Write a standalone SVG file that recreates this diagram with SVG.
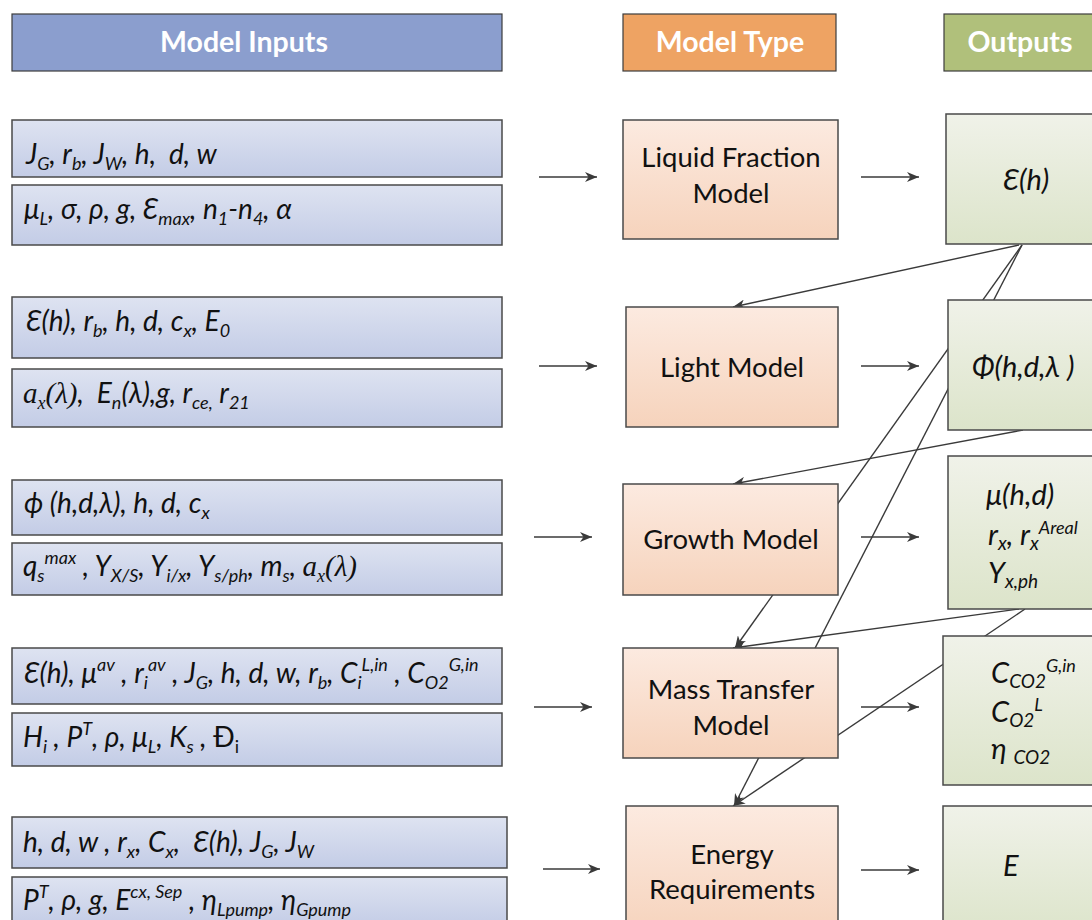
<svg xmlns="http://www.w3.org/2000/svg" width="1092" height="920" viewBox="0 0 1092 920">
  <defs>
    <linearGradient id="gIn" x1="0" y1="0" x2="0" y2="1">
      <stop offset="0" stop-color="#DEE3F1"/>
      <stop offset="1" stop-color="#C3CCE6"/>
    </linearGradient>
    <linearGradient id="gModel" x1="0" y1="0" x2="0" y2="1">
      <stop offset="0" stop-color="#FCEAE0"/>
      <stop offset="1" stop-color="#F6D3BC"/>
    </linearGradient>
    <linearGradient id="gOut" x1="0" y1="0" x2="0" y2="1">
      <stop offset="0" stop-color="#F0F2E9"/>
      <stop offset="1" stop-color="#DCE4CA"/>
    </linearGradient>
    <marker id="arrow" markerUnits="userSpaceOnUse" markerWidth="13" markerHeight="10" refX="12" refY="5" orient="auto">
      <path d="M0,0 L12,5 L0,10 L3.5,5 z" fill="#3a3a3a"/>
    </marker>
    <style>
      .hdr { stroke: #3c3c3c; stroke-width: 1.2; }
      .hdrT { font-family: Lato, "Open Sans", sans-serif; font-weight: bold; font-size: 28.5px; fill: #ffffff; text-anchor: middle; }
      .inBox { fill: url(#gIn); stroke: #4a4a4a; stroke-width: 1.5; }
      .mBox { fill: url(#gModel); stroke: #4a4a4a; stroke-width: 1.5; }
      .oBox { fill: url(#gOut); stroke: #4a4a4a; stroke-width: 1.5; }
      .it { font-family: Lato, "Open Sans", sans-serif; font-style: italic; font-size: 28px; fill: #111111; }
      .out { font-size: 29px; }
      .mT { font-family: Lato, "Open Sans", sans-serif; font-size: 27.5px; fill: #111111; text-anchor: middle; }
      .ser { font-family: "Liberation Serif", serif; font-style: italic; font-size: 29px; }
      .sb { font-size: 18px; baseline-shift: -6px; }
      .sp { font-size: 18px; baseline-shift: 12px; }
      .out .sb { font-size: 19px; baseline-shift: -5px; }
      .out .sp { font-size: 18px; baseline-shift: 11px; }
      .up { font-style: normal; }
      .cn line { stroke: #3a3a3a; stroke-width: 1.4; marker-end: url(#arrow); }
    </style>
  </defs>

  <rect width="1092" height="920" fill="#ffffff"/>

  <!-- column headers -->
  <g id="hdr-inputs">
    <rect class="hdr" x="12" y="14" width="490" height="57" fill="#8B9ECE"/>
    <text class="hdrT" x="244" y="52">Model Inputs</text>
  </g>
  <g id="hdr-type">
    <rect class="hdr" x="623" y="14" width="213" height="57" fill="#EEA363"/>
    <text class="hdrT" x="730" y="52">Model Type</text>
  </g>
  <g id="hdr-outputs">
    <rect class="hdr" x="944" y="14" width="160" height="57" fill="#B0C07B"/>
    <text class="hdrT" x="1020" y="52">Outputs</text>
  </g>

  <!-- connectors, drawn beneath the boxes -->
  <g id="connectors" class="cn">
    <line x1="539" y1="177" x2="597" y2="177"/>
    <line x1="539" y1="366" x2="597" y2="366"/>
    <line x1="534" y1="537" x2="592" y2="537"/>
    <line x1="534" y1="707" x2="592" y2="707"/>
    <line x1="543" y1="869" x2="600" y2="869"/>
    <line x1="861" y1="177" x2="919" y2="177"/>
    <line x1="861" y1="366" x2="919" y2="366"/>
    <line x1="861" y1="537" x2="919" y2="537"/>
    <line x1="861" y1="707" x2="919" y2="707"/>
    <line x1="861" y1="870" x2="919" y2="870"/>
    <line x1="1019" y1="245" x2="733" y2="307"/>
    <line x1="1022" y1="245" x2="735" y2="648"/>
    <line x1="1022" y1="245" x2="734" y2="806"/>
    <line x1="1023" y1="430" x2="733" y2="484"/>
    <line x1="1019" y1="609" x2="733" y2="648"/>
    <line x1="1025" y1="609" x2="733" y2="806"/>
  </g>

  <!-- model inputs -->
  <g id="in-liquid">
    <rect class="inBox" x="12" y="120" width="490" height="57"/>
    <text class="it" x="26" y="164" xml:space="preserve">J<tspan class="sb">G</tspan>, r<tspan class="sb">b</tspan>, J<tspan class="sb">W</tspan>, h,  d, w</text>
    <rect class="inBox" x="12" y="185" width="490" height="60"/>
    <text class="it" x="24" y="219" xml:space="preserve">μ<tspan class="sb">L</tspan>, σ, ρ, g, Ɛ<tspan class="sb">max</tspan>, n<tspan class="sb">1</tspan>-n<tspan class="sb">4</tspan>, α</text>
  </g>
  <g id="in-light">
    <rect class="inBox" x="12" y="297" width="490" height="61"/>
    <text class="it" x="26" y="331">Ɛ(h), r<tspan class="sb">b</tspan>, h, d, c<tspan class="sb">x</tspan>, E<tspan class="sb">0</tspan></text>
    <rect class="inBox" x="12" y="369" width="490" height="58"/>
    <text class="it" x="23" y="403" xml:space="preserve"><tspan class="ser">a<tspan class="sb">x</tspan>(λ)</tspan>,  E<tspan class="sb">n</tspan>(λ),g, r<tspan class="sb">ce,</tspan> r<tspan class="sb">21</tspan></text>
  </g>
  <g id="in-growth">
    <rect class="inBox" x="12" y="480" width="490" height="55"/>
    <text class="it" x="24" y="513">ϕ (h,d,λ), h, d, c<tspan class="sb">x</tspan></text>
    <rect class="inBox" x="12" y="543" width="490" height="52"/>
    <text class="it" x="23" y="576">q<tspan class="sb">s</tspan><tspan class="sp">max</tspan> , Y<tspan class="sb">X/S</tspan>, Y<tspan class="sb">i/x</tspan>, Y<tspan class="sb">s/ph</tspan>, m<tspan class="sb">s</tspan>, <tspan class="ser">a<tspan class="sb">x</tspan>(λ)</tspan></text>
  </g>
  <g id="in-mass">
    <rect class="inBox" x="12" y="648" width="490" height="56"/>
    <text class="it" x="24" y="683">Ɛ(h), μ<tspan class="sp">av</tspan> , r<tspan class="sb">i</tspan><tspan class="sp">av</tspan> , J<tspan class="sb">G</tspan>, h, d, w, r<tspan class="sb">b</tspan>, C<tspan class="sb">i</tspan><tspan class="sp">L,in</tspan> , C<tspan class="sb">O2</tspan><tspan class="sp">G,in</tspan></text>
    <rect class="inBox" x="12" y="713" width="490" height="53"/>
    <text class="it" x="23" y="747">H<tspan class="sb">i</tspan> , P<tspan class="sp">T</tspan>, ρ, μ<tspan class="sb">L</tspan>, K<tspan class="sb">s</tspan> , <tspan class="up">Đ<tspan class="sb">i</tspan></tspan></text>
  </g>
  <g id="in-energy">
    <rect class="inBox" x="12" y="817" width="495" height="51"/>
    <text class="it" x="23" y="852" xml:space="preserve">h, d, w , r<tspan class="sb">x</tspan>, C<tspan class="sb">x</tspan>,  Ɛ(h), J<tspan class="sb">G</tspan>, J<tspan class="sb">W</tspan></text>
    <rect class="inBox" x="12" y="877" width="495" height="50"/>
    <text class="it" x="23" y="910">P<tspan class="sp">T</tspan>, ρ, g, E<tspan class="sp">cx, Sep</tspan> , η<tspan class="sb">Lpump</tspan>, η<tspan class="sb">Gpump</tspan></text>
  </g>

  <!-- model types -->
  <g id="m-liquid">
    <rect class="mBox" x="623" y="120" width="215" height="119"/>
    <text class="mT" x="731" y="167">Liquid Fraction</text>
    <text class="mT" x="731" y="203">Model</text>
  </g>
  <g id="m-light">
    <rect class="mBox" x="626" y="307" width="212" height="120"/>
    <text class="mT" x="732" y="377">Light Model</text>
  </g>
  <g id="m-growth">
    <rect class="mBox" x="623" y="484" width="215" height="111"/>
    <text class="mT" x="731" y="549">Growth Model</text>
  </g>
  <g id="m-mass">
    <rect class="mBox" x="623" y="648" width="215" height="110"/>
    <text class="mT" x="731" y="699">Mass Transfer</text>
    <text class="mT" x="731" y="735">Model</text>
  </g>
  <g id="m-energy">
    <rect class="mBox" x="626" y="806" width="212" height="130"/>
    <text class="mT" x="732" y="864">Energy</text>
    <text class="mT" x="732" y="899">Requirements</text>
  </g>

  <!-- outputs -->
  <g id="o-liquid">
    <rect class="oBox" x="946" y="114" width="160" height="130"/>
    <text class="it out" x="1003" y="190">Ɛ(h)</text>
  </g>
  <g id="o-light">
    <rect class="oBox" x="948" y="300" width="160" height="130"/>
    <text class="it out" x="972" y="377">Φ(h,d,λ )</text>
  </g>
  <g id="o-growth">
    <rect class="oBox" x="948" y="456" width="160" height="153"/>
    <text class="it out" x="986" y="505">μ(h,d)</text>
    <text class="it out" x="988" y="545">r<tspan class="sb">x</tspan>, r<tspan class="sb">x</tspan><tspan class="sp">Areal</tspan></text>
    <text class="it out" x="988" y="583">Y<tspan class="sb">x,ph</tspan></text>
  </g>
  <g id="o-mass">
    <rect class="oBox" x="943" y="636" width="160" height="149"/>
    <text class="it out" x="991" y="683">C<tspan class="sb">CO2</tspan><tspan class="sp">G,in</tspan></text>
    <text class="it out" x="991" y="722">C<tspan class="sb">O2</tspan><tspan class="sp">L</tspan></text>
    <text class="it out" x="991" y="759">η <tspan class="sb">CO2</tspan></text>
  </g>
  <g id="o-energy">
    <rect class="oBox" x="943" y="806" width="160" height="130"/>
    <text class="it out" x="1003" y="876">E</text>
  </g>
</svg>
